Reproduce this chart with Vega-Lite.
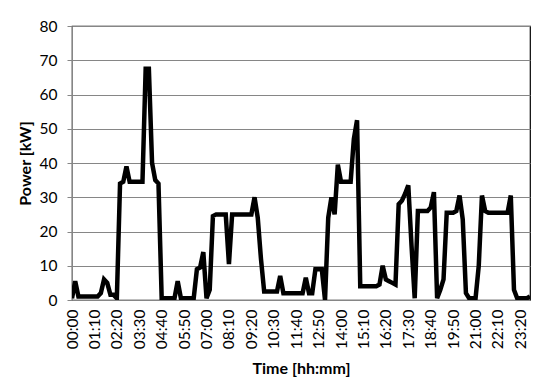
{
  "$schema": "https://vega.github.io/schema/vega-lite/v6.json",
  "width": 458,
  "height": 274,
  "autosize": "none",
  "padding": {"left": 72, "top": 26, "right": 20, "bottom": 92},
  "background": "#ffffff",
  "config": {
    "font": "Lato",
    "view": {"stroke": "#000000", "strokeWidth": 1.2},
    "axis": {
      "labelFont": "Lato",
      "labelFontSize": 15.5,
      "labelColor": "#000000",
      "titleFont": "Lato",
      "titleFontSize": 16,
      "titleFontWeight": "bold",
      "titleColor": "#000000",
      "domainColor": "#868686",
      "tickColor": "#868686",
      "gridColor": "#868686"
    }
  },
  "data": {
    "values": [
      {"t": "00:00", "p": 0.5}, {"t": "00:10", "p": 5.5}, {"t": "00:20", "p": 1}, {"t": "00:30", "p": 1},
      {"t": "00:40", "p": 1}, {"t": "00:50", "p": 1}, {"t": "01:00", "p": 1}, {"t": "01:10", "p": 1},
      {"t": "01:20", "p": 1}, {"t": "01:30", "p": 2}, {"t": "01:40", "p": 6}, {"t": "01:50", "p": 5},
      {"t": "02:00", "p": 1.5}, {"t": "02:10", "p": 1.5}, {"t": "02:20", "p": 0.5}, {"t": "02:30", "p": 34},
      {"t": "02:40", "p": 34.5}, {"t": "02:50", "p": 39}, {"t": "03:00", "p": 34.5}, {"t": "03:10", "p": 34.5},
      {"t": "03:20", "p": 34.5}, {"t": "03:30", "p": 34.5}, {"t": "03:40", "p": 34.5}, {"t": "03:50", "p": 67.5},
      {"t": "04:00", "p": 67.5}, {"t": "04:10", "p": 40}, {"t": "04:20", "p": 35}, {"t": "04:30", "p": 34},
      {"t": "04:40", "p": 0.5}, {"t": "04:50", "p": 0.5}, {"t": "05:00", "p": 0.5}, {"t": "05:10", "p": 0.5},
      {"t": "05:20", "p": 0.5}, {"t": "05:30", "p": 5.5}, {"t": "05:40", "p": 0.5}, {"t": "05:50", "p": 0.5},
      {"t": "06:00", "p": 0.5}, {"t": "06:10", "p": 0.5}, {"t": "06:20", "p": 0.5}, {"t": "06:30", "p": 9},
      {"t": "06:40", "p": 9.5}, {"t": "06:50", "p": 14}, {"t": "07:00", "p": 0.5}, {"t": "07:10", "p": 3},
      {"t": "07:20", "p": 24.5}, {"t": "07:30", "p": 25}, {"t": "07:40", "p": 25}, {"t": "07:50", "p": 25},
      {"t": "08:00", "p": 25}, {"t": "08:10", "p": 10.5}, {"t": "08:20", "p": 25}, {"t": "08:30", "p": 25},
      {"t": "08:40", "p": 25}, {"t": "08:50", "p": 25}, {"t": "09:00", "p": 25}, {"t": "09:10", "p": 25},
      {"t": "09:20", "p": 25}, {"t": "09:30", "p": 30}, {"t": "09:40", "p": 24}, {"t": "09:50", "p": 12},
      {"t": "10:00", "p": 2.5}, {"t": "10:10", "p": 2.5}, {"t": "10:20", "p": 2.5}, {"t": "10:30", "p": 2.5},
      {"t": "10:40", "p": 2.5}, {"t": "10:50", "p": 7}, {"t": "11:00", "p": 2}, {"t": "11:10", "p": 2},
      {"t": "11:20", "p": 2}, {"t": "11:30", "p": 2}, {"t": "11:40", "p": 2}, {"t": "11:50", "p": 2},
      {"t": "12:00", "p": 2}, {"t": "12:10", "p": 6.5}, {"t": "12:20", "p": 2}, {"t": "12:30", "p": 2},
      {"t": "12:40", "p": 9}, {"t": "12:50", "p": 9}, {"t": "13:00", "p": 9}, {"t": "13:10", "p": 0},
      {"t": "13:20", "p": 24}, {"t": "13:30", "p": 30}, {"t": "13:40", "p": 25}, {"t": "13:50", "p": 39.5},
      {"t": "14:00", "p": 34.5}, {"t": "14:10", "p": 34.5}, {"t": "14:20", "p": 34.5}, {"t": "14:30", "p": 34.5},
      {"t": "14:40", "p": 47}, {"t": "14:50", "p": 52.5}, {"t": "15:00", "p": 4}, {"t": "15:10", "p": 4},
      {"t": "15:20", "p": 4}, {"t": "15:30", "p": 4}, {"t": "15:40", "p": 4}, {"t": "15:50", "p": 4},
      {"t": "16:00", "p": 4.5}, {"t": "16:10", "p": 10}, {"t": "16:20", "p": 6}, {"t": "16:30", "p": 5.5},
      {"t": "16:40", "p": 5}, {"t": "16:50", "p": 4.5}, {"t": "17:00", "p": 28}, {"t": "17:10", "p": 29},
      {"t": "17:20", "p": 31}, {"t": "17:30", "p": 33.5}, {"t": "17:40", "p": 16}, {"t": "17:50", "p": 0.5},
      {"t": "18:00", "p": 26}, {"t": "18:10", "p": 26}, {"t": "18:20", "p": 26}, {"t": "18:30", "p": 26},
      {"t": "18:40", "p": 27}, {"t": "18:50", "p": 31.5}, {"t": "19:00", "p": 0.5}, {"t": "19:10", "p": 3},
      {"t": "19:20", "p": 6}, {"t": "19:30", "p": 25.5}, {"t": "19:40", "p": 25.5}, {"t": "19:50", "p": 25.5},
      {"t": "20:00", "p": 26}, {"t": "20:10", "p": 30.5}, {"t": "20:20", "p": 23.5}, {"t": "20:30", "p": 2},
      {"t": "20:40", "p": 0.5}, {"t": "20:50", "p": 0.5}, {"t": "21:00", "p": 0.5}, {"t": "21:10", "p": 10},
      {"t": "21:20", "p": 30.5}, {"t": "21:30", "p": 26}, {"t": "21:40", "p": 25.5}, {"t": "21:50", "p": 25.5},
      {"t": "22:00", "p": 25.5}, {"t": "22:10", "p": 25.5}, {"t": "22:20", "p": 25.5}, {"t": "22:30", "p": 25.5},
      {"t": "22:40", "p": 25.5}, {"t": "22:50", "p": 30.5}, {"t": "23:00", "p": 3}, {"t": "23:10", "p": 0.5},
      {"t": "23:20", "p": 0.5}, {"t": "23:30", "p": 0.5}, {"t": "23:40", "p": 0.5}, {"t": "23:50", "p": 1}
    ]
  },
  "mark": {"type": "line", "color": "#000000", "strokeWidth": 4.5, "clip": true},
  "encoding": {
    "x": {
      "field": "t",
      "type": "ordinal",
      "sort": null,
      "scale": {"type": "point", "padding": 0},
      "axis": {
        "title": "Time [hh:mm]",
        "values": ["00:00", "01:10", "02:20", "03:30", "04:40", "05:50", "07:00", "08:10", "09:20", "10:30", "11:40", "12:50", "14:00", "15:10", "16:20", "17:30", "18:40", "19:50", "21:00", "22:10", "23:20"],
        "labelAngle": -90,
        "labelPadding": 9,
        "ticks": false,
        "grid": false,
        "titlePadding": 12
      }
    },
    "y": {
      "field": "p",
      "type": "quantitative",
      "scale": {"domain": [0, 80], "nice": false},
      "axis": {
        "title": "Power [kW]",
        "values": [0, 10, 20, 30, 40, 50, 60, 70, 80],
        "tickSize": 5,
        "labelPadding": 10,
        "titlePadding": 6,
        "grid": true
      }
    }
  }
}
